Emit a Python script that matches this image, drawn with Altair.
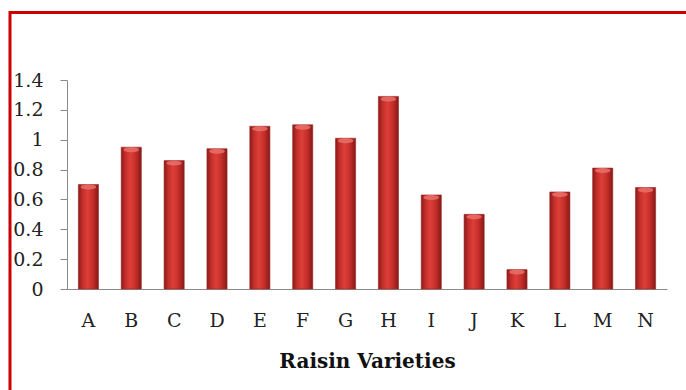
import altair as alt
import pandas as pd

varieties = ["A", "B", "C", "D", "E", "F", "G", "H", "I", "J", "K", "L", "M", "N"]
values = [0.70, 0.95, 0.86, 0.94, 1.09, 1.10, 1.01, 1.29, 0.63, 0.50, 0.13, 0.65, 0.81, 0.68]
y_ticks = [0, 0.2, 0.4, 0.6, 0.8, 1, 1.2, 1.4]

df = pd.DataFrame({"variety": varieties, "value": values})

serif = "DejaVu Serif"

x_enc = alt.X(
    "variety:N",
    sort=varieties,
    scale=alt.Scale(paddingInner=0.53, paddingOuter=0.265),
    axis=alt.Axis(
        title="Raisin Varieties",
        titleFont=serif,
        titleFontSize=20,
        titleFontWeight="bold",
        titleColor="#111111",
        titleBaseline="alphabetic",
        titleY=78,
        labelFont=serif,
        labelFontSize=19,
        labelFontWeight="normal",
        labelColor="#222222",
        labelAngle=0,
        labelPadding=22,
        labelOverlap=False,
        ticks=False,
        domainColor="#8a8a8a",
        domainWidth=1.2,
        grid=False,
    ),
)

y_enc = alt.Y(
    "value:Q",
    scale=alt.Scale(domain=[0, 1.4], nice=False),
    axis=alt.Axis(
        title=None,
        values=y_ticks,
        format="~g",
        labelFont=serif,
        labelFontSize=19,
        labelColor="#222222",
        labelPadding=17,
        labelOverlap=False,
        labelFlush=False,
        tickSize=7,
        tickColor="#8a8a8a",
        tickWidth=1,
        domainColor="#8a8a8a",
        grid=False,
    ),
)

gradient = alt.Gradient(
    gradient="linear",
    x1=0, x2=1, y1=0, y2=0,
    stops=[
        alt.GradientStop(offset=0, color="#8c1a18"),
        alt.GradientStop(offset=0.22, color="#c52f2b"),
        alt.GradientStop(offset=0.45, color="#dd3f38"),
        alt.GradientStop(offset=0.72, color="#c42e2a"),
        alt.GradientStop(offset=1, color="#861816"),
    ],
)

base = alt.Chart(df).encode(x=x_enc, y=y_enc)

bars = base.mark_bar(color=gradient, stroke="#9a2a26", strokeWidth=0.6)

caps = base.mark_point(
    shape="M-1,0A1,0.32,0,1,1,1,0A1,0.32,0,1,1,-1,0Z",
    filled=True,
    color="#e8706a",
    opacity=0.85,
    size=240,
    yOffset=2.5,
)

border_df = pd.DataFrame({"k": [0]})
top_border = alt.Chart(border_df).mark_rule(color="#cc0000", strokeWidth=3).encode(
    x=alt.value(-58), x2=alt.value(640), y=alt.value(-67.5)
)
left_border = alt.Chart(border_df).mark_rule(color="#cc0000", strokeWidth=3).encode(
    x=alt.value(-57), y=alt.value(-69), y2=alt.value(320)
)

chart = (
    alt.layer(bars, caps, top_border, left_border)
    .properties(
        width=600,
        height=209,
        autosize=alt.AutoSizeParams(type="none"),
        padding={"left": 67, "top": 80, "right": 19, "bottom": 101},
        background="white",
    )
    .configure_view(stroke=None)
    .configure_axis(labelOverlap=False)
)

chart.save("out.html", embed_options={"renderer": "svg", "actions": False})
